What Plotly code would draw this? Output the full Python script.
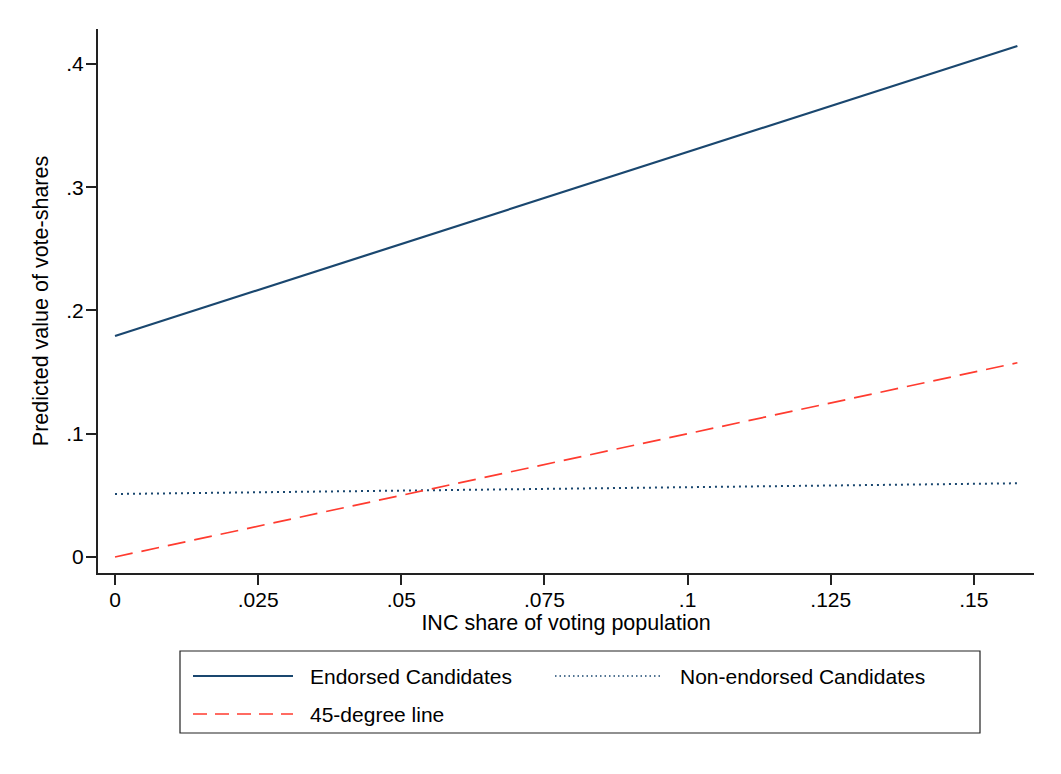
import plotly.graph_objects as go

# ---- data ----
x_share = [0.0, 0.1576]
endorsed = [0.1793, 0.4146]
non_endorsed = [0.0511, 0.0598]
deg45 = [0.0, 0.1576]

series_names = ["Endorsed Candidates", "Non-endorsed Candidates", "45-degree line"]
x_tickvals = [0, 0.025, 0.05, 0.075, 0.1, 0.125, 0.15]
x_ticktext = ["0", ".025", ".05", ".075", ".1", ".125", ".15"]
y_tickvals = [0, 0.1, 0.2, 0.3, 0.4]
y_ticktext = ["0", ".1", ".2", ".3", ".4"]

# ---- layout geometry (pixels, in viewport coordinates) ----
OFF = 8                      # default body margin of the html page
W, H = 1061 - 2 * OFF, 774 - 2 * OFF
L, R, T, B = 98 - OFF, 1034 - OFF, 29 - OFF, 573 - OFF
FONT = "Liberation Sans, Arial, Helvetica, sans-serif"
NAVY = "#1a476f"
RED = "#ff3b2f"
AXC = "#222222"
TICK_SIZE = 21
TITLE_SIZE = 21.5


def px(xp):
    return (xp - OFF - L) / (R - L)


def py(yp):
    return (B - (yp - OFF)) / (B - T)


fig = go.Figure()
fig.add_trace(go.Scatter(x=x_share, y=endorsed, mode="lines", name=series_names[0],
                         line=dict(color=NAVY, width=2.2), showlegend=False))
fig.add_trace(go.Scatter(x=x_share, y=non_endorsed, mode="lines", name=series_names[1],
                         line=dict(color=NAVY, width=2, dash="2px,4px"), showlegend=False))
fig.add_trace(go.Scatter(x=x_share, y=deg45, mode="lines", name=series_names[2],
                         line=dict(color=RED, width=1.7, dash="18px,9px"), showlegend=False))

shapes = []
annotations = []
# legend box
shapes.append(dict(type="rect", xref="paper", yref="paper",
                   x0=px(180), x1=px(980), y0=py(733), y1=py(651),
                   fillcolor="rgba(0,0,0,0)", line=dict(color="#222222", width=1.2)))
legend_items = [
    (series_names[0], 193, 293, 676, dict(color=NAVY, width=2.2)),
    (series_names[1], 555, 663, 676, dict(color=NAVY, width=1.3, dash="1.5px,3px")),
    (series_names[2], 193, 293, 714, dict(color=RED, width=1.7, dash="14px,8px")),
]
for name, x0, x1, yc, ln in legend_items:
    shapes.append(dict(type="line", xref="paper", yref="paper",
                       x0=px(x0), x1=px(x1), y0=py(yc), y1=py(yc), line=ln))
    annotations.append(dict(text=name, xref="paper", yref="paper",
                            x=px(x1 + 15), y=py(yc), xanchor="left", yanchor="middle",
                            showarrow=False,
                            font=dict(family=FONT, size=TICK_SIZE, color="black")))

fig.update_layout(
    width=W, height=H,
    margin=dict(l=L, r=W - R, t=T, b=H - B, pad=0),
    paper_bgcolor="white",
    plot_bgcolor="white",
    font=dict(family=FONT, size=TICK_SIZE, color="black"),
    shapes=shapes,
    annotations=annotations,
    showlegend=False,
    xaxis=dict(
        range=[-0.00297, 0.1605], tickvals=x_tickvals, ticktext=x_ticktext,
        showgrid=False, zeroline=False, showline=True, linecolor=AXC, linewidth=2,
        ticks="outside", ticklen=10, tickwidth=2, tickcolor=AXC, ticklabelstandoff=-3,
        tickfont=dict(family=FONT, size=TICK_SIZE, color="black"),
        title=dict(text="INC share of voting population", standoff=4,
                   font=dict(family=FONT, size=TITLE_SIZE, color="black")),
    ),
    yaxis=dict(
        range=[-0.013, 0.4284], tickvals=y_tickvals, ticktext=y_ticktext,
        showgrid=False, zeroline=False, showline=True, linecolor=AXC, linewidth=2,
        ticks="outside", ticklen=10, tickwidth=2, tickcolor=AXC, ticklabelstandoff=-2,
        tickfont=dict(family=FONT, size=TICK_SIZE, color="black"),
        title=dict(text="Predicted value of vote-shares", standoff=12,
                   font=dict(family=FONT, size=TITLE_SIZE, color="black")),
    ),
)

fig.write_html("out.html")
